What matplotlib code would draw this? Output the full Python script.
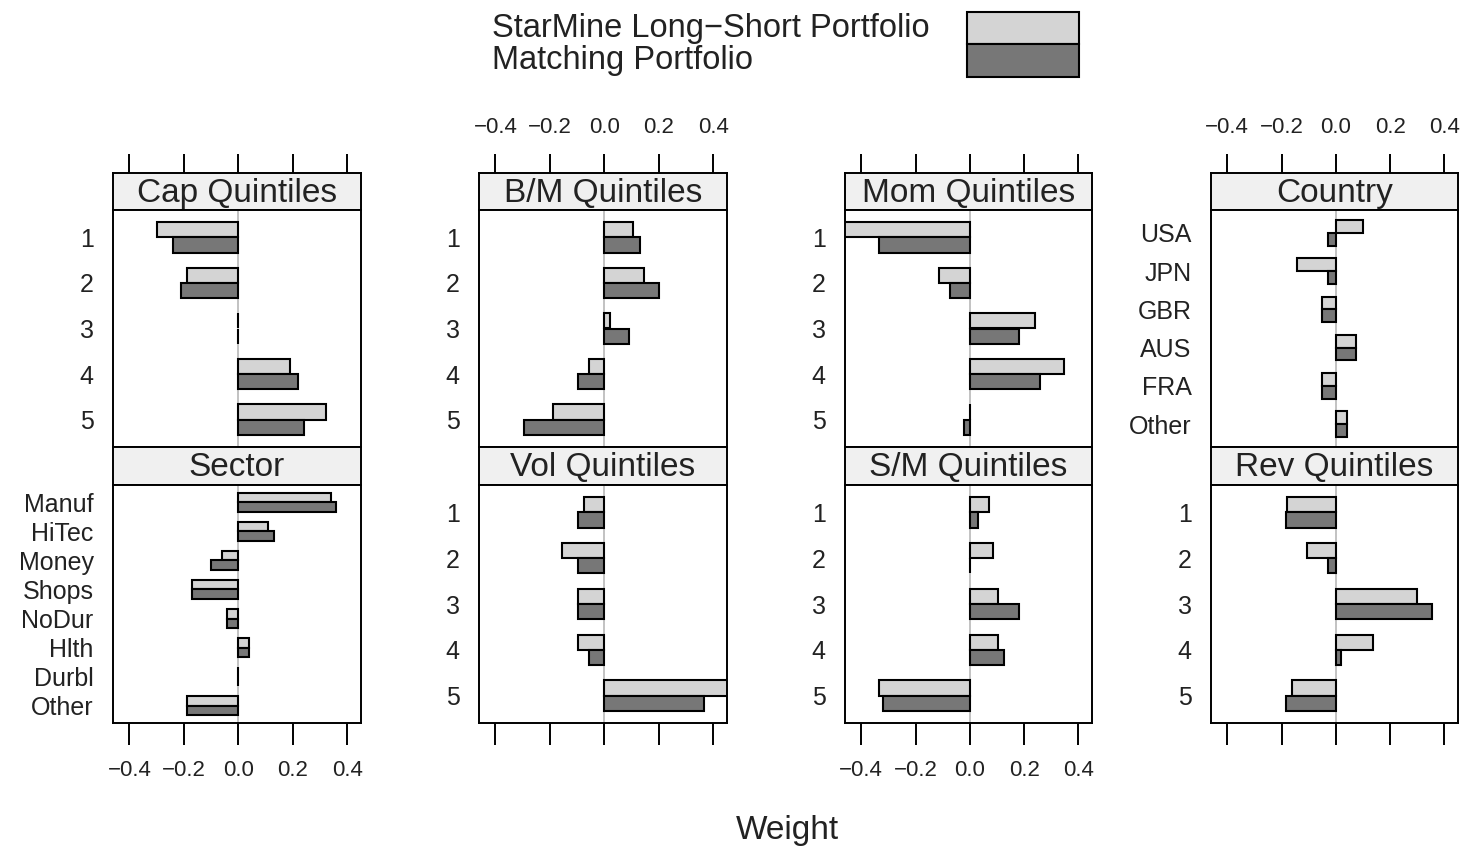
import matplotlib.pyplot as plt
from matplotlib.patches import Rectangle

plt.rcParams["font.family"] = ["Liberation Sans", "DejaVu Sans"]

# ---- DATA (weights) ----
quintile_labels = ["1", "2", "3", "4", "5"]
sector_labels = ["Manuf", "HiTec", "Money", "Shops", "NoDur", "Hlth", "Durbl", "Other"]
country_labels = ["USA", "JPN", "GBR", "AUS", "FRA", "Other"]

cap_starmine = [-0.30, -0.19, 0.0, 0.19, 0.32]
cap_matching = [-0.24, -0.21, 0.0, 0.22, 0.24]

sector_starmine = [0.34, 0.11, -0.06, -0.17, -0.04, 0.04, 0.0, -0.19]
sector_matching = [0.36, 0.13, -0.10, -0.17, -0.04, 0.04, 0.0, -0.19]

bm_starmine = [0.105, 0.145, 0.02, -0.055, -0.19]
bm_matching = [0.13, 0.20, 0.09, -0.095, -0.295]

vol_starmine = [-0.075, -0.155, -0.095, -0.095, 0.46]
vol_matching = [-0.095, -0.095, -0.095, -0.055, 0.365]

mom_starmine = [-0.47, -0.115, 0.24, 0.345, 0.0]
mom_matching = [-0.335, -0.075, 0.18, 0.26, -0.02]

sm_starmine = [0.07, 0.085, 0.105, 0.105, -0.335]
sm_matching = [0.03, 0.0, 0.18, 0.125, -0.32]

country_starmine = [0.10, -0.145, -0.05, 0.075, -0.05, 0.04]
country_matching = [-0.03, -0.03, -0.05, 0.075, -0.05, 0.04]

rev_starmine = [-0.18, -0.105, 0.30, 0.135, -0.16]
rev_matching = [-0.185, -0.03, 0.355, 0.02, -0.185]

series_names = ["StarMine Long\u2212Short Portfolio", "Matching Portfolio"]
tick_values = [-0.4, -0.2, 0.0, 0.2, 0.4]
tick_labels = ["\u22120.4", "\u22120.2", "0.0", "0.2", "0.4"]

# ---- STYLE / LAYOUT ----
LIGHT = "#d4d4d4"
DARK = "#777777"
STRIP = "#f0f0f0"
TXT = "#222222"
XLIM = (-0.46, 0.45)
W, H = 1468, 849

fig = plt.figure(figsize=(W / 100, H / 100), dpi=100)


def box(left, top, right, bottom):
    return [left / W, 1 - bottom / H, (right - left) / W, (bottom - top) / H]


cols = [(113, 361), (479, 727), (845, 1092), (1211, 1458)]
rows = [(173, 210, 447), (447, 485, 723)]  # strip top, plot top, plot bottom

panels = [
    # (col, row, title, labels, starmine, matching)
    (0, 0, "Cap Quintiles", quintile_labels, cap_starmine, cap_matching),
    (0, 1, "Sector", sector_labels, sector_starmine, sector_matching),
    (1, 0, "B/M Quintiles", quintile_labels, bm_starmine, bm_matching),
    (1, 1, "Vol Quintiles", quintile_labels, vol_starmine, vol_matching),
    (2, 0, "Mom Quintiles", quintile_labels, mom_starmine, mom_matching),
    (2, 1, "S/M Quintiles", quintile_labels, sm_starmine, sm_matching),
    (3, 0, "Country", country_labels, country_starmine, country_matching),
    (3, 1, "Rev Quintiles", quintile_labels, rev_starmine, rev_matching),
]


def draw_panel(col, row, title, labels, starmine, matching):
    left, right = cols[col]
    s_top, p_top, p_bot = rows[row]

    # strip
    sax = fig.add_axes(box(left, s_top, right, p_top))
    sax.set_facecolor(STRIP)
    sax.set_xlim(XLIM)
    sax.set_ylim(0, 1)
    sax.set_yticks([])
    sax.text(0.5, 0.45, title, transform=sax.transAxes, ha="center",
             va="center", fontsize=24, color=TXT)
    for sp in sax.spines.values():
        sp.set_linewidth(1.4)

    # plot area
    ax = fig.add_axes(box(left, p_top, right, p_bot))
    n = len(labels)
    y = list(range(1, n + 1))
    ax.barh([v - 1 / 6 for v in y], starmine, height=1 / 3, color=LIGHT,
            edgecolor="black", linewidth=1.5, zorder=2)
    ax.barh([v + 1 / 6 for v in y], matching, height=1 / 3, color=DARK,
            edgecolor="black", linewidth=1.5, zorder=2)
    ax.axvline(0, color="#b8b8b8", linewidth=1.2, zorder=1)
    ax.set_xlim(XLIM)
    ax.set_ylim(n + 0.6, 0.4)
    ax.set_yticks(y)
    ax.set_yticklabels(labels, fontsize=18, color=TXT)
    ax.tick_params(axis="y", length=0, pad=14)
    for sp in ax.spines.values():
        sp.set_linewidth(1.4)

    if row == 0:
        ax.set_xticks([])
        sax.xaxis.tick_top()
        sax.set_xticks(tick_values)
        sax.tick_params(axis="x", length=14, width=1.4, pad=11)
        if col in (1, 3):
            sax.set_xticklabels(tick_labels, fontsize=16, color=TXT)
        else:
            sax.set_xticklabels([])
    else:
        sax.set_xticks([])
        ax.set_xticks(tick_values)
        ax.tick_params(axis="x", length=16, width=1.4, pad=11)
        if col in (0, 2):
            ax.set_xticklabels(tick_labels, fontsize=16, color=TXT)
        else:
            ax.set_xticklabels([])


for p in panels:
    draw_panel(*p)

# legend on top
fig.text(492 / W, 1 - 28 / H, series_names[0], ha="left", va="center",
         fontsize=23.5, color=TXT)
fig.text(492 / W, 1 - 61 / H, series_names[1], ha="left", va="center",
         fontsize=23.5, color=TXT)
fig.add_artist(Rectangle((967 / W, 1 - 44 / H), 112 / W, 32 / H,
                         transform=fig.transFigure, facecolor=LIGHT,
                         edgecolor="black", linewidth=1.5))
fig.add_artist(Rectangle((967 / W, 1 - 77 / H), 112 / W, 33 / H,
                         transform=fig.transFigure, facecolor=DARK,
                         edgecolor="black", linewidth=1.5))

fig.text(787 / W, 1 - 830 / H, "Weight", ha="center", va="center",
         fontsize=24, color=TXT)

fig.savefig("out.png", dpi=100)
